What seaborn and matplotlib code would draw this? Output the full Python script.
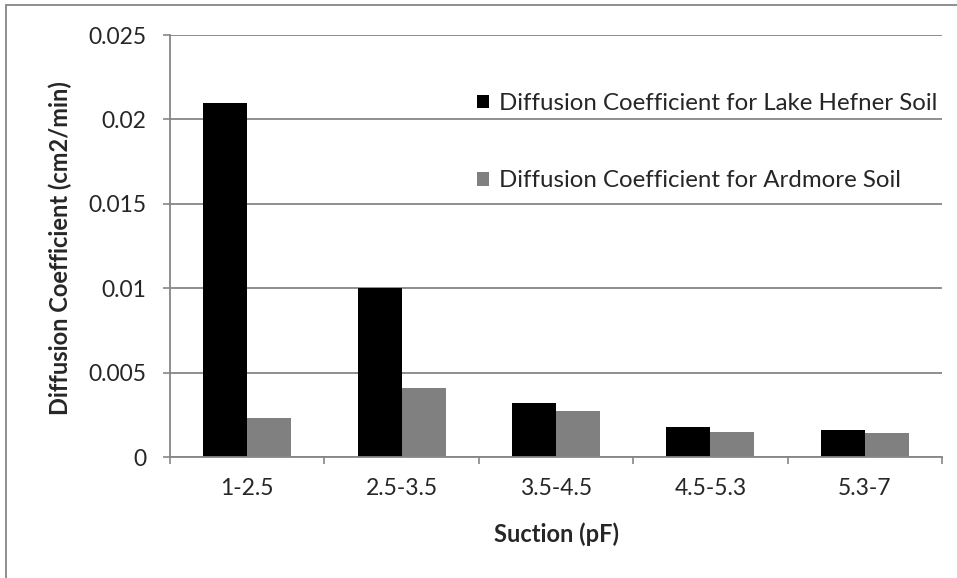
import matplotlib
matplotlib.use("Agg")
import matplotlib.pyplot as plt
import seaborn as sns
import pandas as pd
import numpy as np
from matplotlib.patches import Rectangle

categories = ["1-2.5", "2.5-3.5", "3.5-4.5", "4.5-5.3", "5.3-7"]
lake_hefner = [0.021, 0.010, 0.0032, 0.0018, 0.0016]
ardmore = [0.0023, 0.0041, 0.0027, 0.0015, 0.0014]
series_names = ["Diffusion Coefficient for Lake Hefner Soil",
                "Diffusion Coefficient for Ardmore Soil"]
yticks = [0, 0.005, 0.01, 0.015, 0.02, 0.025]
ytick_labels = ["0", "0.005", "0.01", "0.015", "0.02", "0.025"]

df = pd.DataFrame({
    "Suction": categories * 2,
    "Value": lake_hefner + ardmore,
    "Series": [series_names[0]] * len(categories) + [series_names[1]] * len(categories),
})

sns.set_theme(style="white")
plt.rcParams["font.family"] = ["Lato", "DejaVu Sans"]

FS = 16.5
W, H = 957, 578
fig = plt.figure(figsize=(9.57, 5.78), dpi=100)
ax = fig.add_axes([170/W, 1-457/H, (942-170)/W, (457-35)/H])

grid_col = "#868686"
sns.barplot(data=df, x="Suction", y="Value", hue="Series", ax=ax,
            palette=["#000000", "#808080"], width=0.57, saturation=1,
            edgecolor="none", linewidth=0)

ax.set_ylim(0, 0.025)
ax.set_xlim(-0.5, len(categories) - 0.5)
ax.set_yticks(yticks)
ax.set_yticklabels(ytick_labels, fontsize=FS)
ax.yaxis.grid(True, color=grid_col, linewidth=1.3)
ax.set_axisbelow(True)

for s in ["top", "right"]:
    ax.spines[s].set_visible(False)
for s in ["left", "bottom"]:
    ax.spines[s].set_color(grid_col)
    ax.spines[s].set_linewidth(1.3)

ax.tick_params(axis="y", which="major", left=True, length=5, width=1.2,
               color=grid_col, pad=12)
ax.set_xticks(range(len(categories)))
ax.set_xticklabels(categories, fontsize=FS)
ax.tick_params(axis="x", which="major", length=0, pad=15)
ax.set_xticks(np.arange(-0.5, len(categories), 1.0), minor=True)
ax.tick_params(axis="x", which="minor", bottom=True, length=5, width=1.2, color=grid_col)

ax.set_xlabel("")
ax.set_ylabel("")
fig.text(556/W, 1-534/H, "Suction (pF)", fontsize=17, fontweight="bold",
         ha="center", va="center")
fig.text(60/W, 1-248/H, "Diffusion Coefficient (cm2/min)", fontsize=17,
         fontweight="bold", rotation=90, ha="center", va="center")

leg = ax.legend(loc="upper left", bbox_to_anchor=(477/W, 1-93/H),
                bbox_transform=fig.transFigure, frameon=False, fontsize=17.3,
                handlelength=0.5, handleheight=0.5, handletextpad=0.4,
                labelspacing=2.35, borderpad=0, borderaxespad=0)

fig.patches.append(Rectangle((6/W, -0.1), 2.0, 0.1 + 1 - 5/H,
                             transform=fig.transFigure, fill=False,
                             edgecolor=grid_col, linewidth=1.3))

fig.savefig("out.png", dpi=100, facecolor="white")
